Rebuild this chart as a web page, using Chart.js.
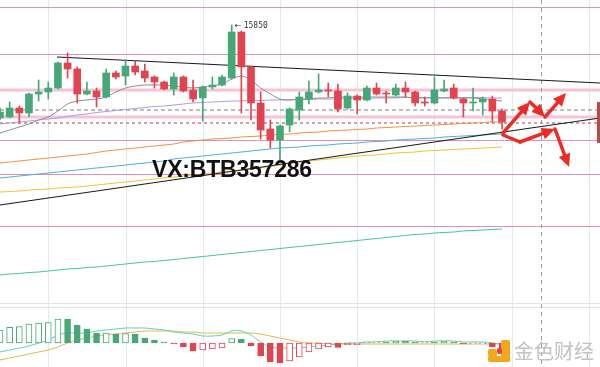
<!DOCTYPE html>
<html>
<head>
<meta charset="utf-8">
<script src="https://cdn.jsdelivr.net/npm/chart.js@4.4.0/dist/chart.umd.min.js"></script>
<style>
  html, body { margin: 0; padding: 0; background: #fff; }
  #wrap { position: relative; width: 600px; height: 367px; overflow: hidden; background: #fff; }
  #wrap canvas { position: absolute; left: 0; top: 0; }
  .wm { position: absolute; left: 152px; top: 158px; font: bold 23px "Liberation Sans", Arial, sans-serif; line-height: 23px; color: #111; white-space: nowrap; letter-spacing: -0.2px; }
  .tag { position: absolute; left: 597px; top: 102px; width: 3px; height: 41px; background: #b94a4a; }
  .logo-icon { position: absolute; left: 488px; top: 340px; width: 23px; height: 22px; }
  .logo-icon div { position: absolute; background: #f2a81d; border-radius: 2px; }
  .logo-text { position: absolute; left: 514px; top: 339px; font: 20px "Noto Sans CJK SC", sans-serif; line-height: 24px; color: #c2c2c2; white-space: nowrap; }
</style>
</head>
<body>
<div id="wrap">
  <canvas id="c" width="600" height="367"></canvas>
  <div class="wm">VX:BTB357286</div>
  <div class="tag"></div>
  <div class="logo-icon">
    <div style="left:0;top:9px;width:9px;height:8px;"></div>
    <div style="left:13px;top:0;width:9px;height:22px;"></div>
    <div style="left:0;top:16px;width:22px;height:6px;"></div>
    <div style="left:9px;top:8px;width:5px;height:6px;background:#e0463a;"></div>
  </div>
  <div class="logo-text">金色财经</div>
</div>
<script>
// ---- candles (price) ----
const opens  = [14920,14930,15020,14970,15160,15180,15220,15470,15410,15160,15190,15130,15370,15340,15440,15390,15330,15280,15210,15330,15200,15120,15230,15250,15320,15780,15430,15070,14810,14700,14850,15000,15110,15180,15200,15190,15020,15140,15100,15220,15170,15150,15220,15180,15080,15070,15190,15220,15110,15070,15080,15110,14990];
const highs  = [15020,15080,15040,15170,15300,15280,15480,15570,15430,15280,15220,15410,15390,15500,15490,15460,15340,15290,15370,15340,15300,15240,15330,15350,15850,15790,15440,15180,14900,14850,15020,15180,15290,15360,15270,15260,15170,15150,15240,15270,15190,15260,15280,15190,15130,15330,15300,15260,15120,15220,15130,15140,15010];
const lows   = [14900,14920,14870,14930,15090,15110,15210,15320,15070,15150,15030,15120,15310,15250,15350,15280,15220,15200,15150,15180,15080,14890,15210,15240,15310,14970,14900,14710,14620,14500,14780,14900,15060,15170,15130,14980,15010,14960,15090,15150,15070,15140,15130,15040,15040,15060,15180,15110,14930,14990,14950,14880,14810];
const closes = [14980,15020,14970,15160,15180,15220,15470,15410,15160,15190,15130,15370,15330,15440,15380,15320,15280,15210,15330,15190,15110,15230,15250,15330,15780,15430,15070,14800,14700,14840,15010,15130,15180,15200,15190,15010,15140,15100,15220,15160,15160,15220,15180,15070,15070,15200,15210,15120,15070,15080,15110,14990,14880];

// ---- moving averages ----
const maGray   = [14770,14800,14830,14860,14900,14930,14990,15060,15090,15100,15110,15130,15180,15220,15240,15250,15250,15250,15240,15230,15220,15230,15240,15260,15310,15340,15300,15220,15160,15110,15100,15110,15110,15120,15120,15130,15130,15130,15130,15130,15130,15130,15130,15120,15120,15120,15120,15120,15120,15120,15110,15100,15090];
const maPurple = [14860,14870,14880,14890,14900,14910,14920,14935,14950,14960,14975,14985,14995,15005,15015,15025,15035,15040,15050,15060,15070,15075,15080,15085,15090,15090,15095,15095,15100,15100,15100,15105,15105,15110,15110,15110,15115,15115,15115,15120,15120,15120,15125,15125,15125,15125,15125,15125,15125,15125,15125,15120,15120];
const maOrange = [14470,14480,14490,14500,14510,14520,14530,14540,14550,14560,14575,14590,14600,14610,14620,14630,14640,14650,14660,14680,14690,14700,14710,14715,14720,14730,14735,14740,14750,14755,14760,14770,14775,14780,14790,14795,14800,14805,14810,14820,14825,14830,14835,14840,14845,14850,14855,14860,14865,14870,14875,14880,14880];
const maBlue   = [14320,14330,14340,14350,14360,14370,14380,14390,14400,14410,14420,14430,14440,14450,14460,14470,14480,14490,14510,14520,14530,14540,14550,14560,14570,14580,14590,14600,14610,14620,14625,14630,14640,14645,14650,14660,14665,14670,14680,14685,14690,14700,14705,14710,14715,14720,14730,14735,14740,14745,14750,14755,14760];
const maYellow = [14180,14185,14190,14200,14205,14210,14220,14225,14230,14240,14250,14260,14270,14280,14290,14300,14310,14320,14330,14340,14350,14360,14370,14380,14390,14400,14410,14420,14435,14450,14465,14480,14490,14500,14510,14520,14530,14540,14545,14550,14560,14570,14575,14580,14590,14595,14600,14605,14610,14615,14620,14625,14630];
const maLong   = [13350,13360,13365,13375,13380,13390,13400,13410,13415,13425,13430,13440,13450,13460,13470,13480,13485,13495,13505,13515,13525,13535,13545,13555,13565,13575,13585,13595,13605,13615,13625,13635,13645,13655,13665,13675,13685,13695,13705,13715,13725,13735,13745,13755,13760,13770,13775,13780,13790,13795,13800,13805,13810];

// ---- MACD ----
const macdHist = [65,78,82,95,99,102,120,118,90,70,48,50,45,47,45,25,15,5,-5,-20,-40,-35,-30,-25,22,20,-15,-65,-95,-100,-90,-70,-45,-30,-20,-22,-10,-8,5,6,4,10,9,5,6,5,10,5,-5,-3,-3,-20,-35];
const macdDif  = [-45,-35,-25,-15,0,15,40,50,50,50,60,65,70,75,75,75,70,65,55,50,45,35,35,40,60,60,40,5,-20,-25,-25,-25,-20,-15,-10,-5,0,0,5,5,10,10,10,10,5,10,10,10,5,5,5,0,-5];
const macdDea  = [-85,-75,-65,-55,-45,-35,-20,0,15,25,35,40,45,50,55,60,60,60,60,55,55,50,50,50,50,50,50,45,35,25,15,5,0,0,-5,-5,-5,-5,-5,-5,-5,-5,-5,-5,-5,-5,-5,-5,-5,-5,-5,-5,-5];
const macdFrame = [200, 180];

// ---- drawings ----
const trendHigh = [[5.9, 15530], [62.15, 15270]];
const trendLow  = [[0, 14050], [62.15, 14920]];
const pinkLevels = [16030, 15560, 14700, 14360, 13840];
const bandLevels = [15200, 14930];
const grayDashLevels = [15000];
const redDashLevels = [14870];
const gridIdx = [5, 13, 21, 29, 37, 45, 53, 61];
const cursorIdx = 56;
const arrowPaths = [
  [52.1, 14770, 54.9, 15080, true],
  [54.9, 15080, 56.45, 14930, true],
  [56.45, 14930, 58.63, 15170, true],
  [52.1, 14750, 53.86, 14680, false],
  [53.86, 14680, 57.49, 14810, true],
  [57.49, 14810, 58.94, 14430, true]
];

const GREEN = '#46a878', RED = '#e2434f';
const idx = opens.map((_, i) => i);
const isUp = idx.map(i => closes[i] >= opens[i]);
const pts = arr => arr.map((v, i) => ({ x: i, y: v }));

// hollow bar = green bar growing / red bar shrinking
const hollow = macdHist.map((v, i) => {
  const p = i ? macdHist[i - 1] : 0;
  if (v >= 0) return p < 0 || v > p;
  return !(p >= 0 || Math.abs(v) > Math.abs(p));
});

const overlay = {
  id: 'overlay',
  beforeDatasetsDraw(chart) {
    const { ctx, scales: { x, y, ym } } = chart;
    const W = chart.width, H = chart.height;
    const hline = (py, color, w, dash) => {
      ctx.beginPath();
      ctx.setLineDash(dash || []);
      ctx.strokeStyle = color; ctx.lineWidth = w;
      ctx.moveTo(0, py); ctx.lineTo(W, py); ctx.stroke();
    };
    ctx.save();
    gridIdx.forEach(i => {
      const px = Math.round(x.getPixelForValue(i)) + 0.5;
      ctx.beginPath(); ctx.strokeStyle = '#e3eaee'; ctx.lineWidth = 1;
      ctx.moveTo(px, 0); ctx.lineTo(px, H); ctx.stroke();
    });
    macdFrame.forEach(v => hline(Math.round(ym.getPixelForValue(v)) + 0.5, '#dfe4e8', 1));
    bandLevels.forEach(p => hline(y.getPixelForValue(p), '#f6c3d9', 3));
    pinkLevels.forEach(p => hline(Math.round(y.getPixelForValue(p)) + 0.5, '#e58cc0', 1));
    grayDashLevels.forEach(p => hline(y.getPixelForValue(p), '#a9a9a9', 1.5, [4, 3]));
    redDashLevels.forEach(p => hline(y.getPixelForValue(p), '#c98080', 1.5, [3, 3]));
    const cx = Math.round(x.getPixelForValue(cursorIdx)) + 0.5;
    ctx.beginPath(); ctx.setLineDash([4, 4]); ctx.strokeStyle = '#9a9a9a'; ctx.lineWidth = 1;
    ctx.moveTo(cx, 0); ctx.lineTo(cx, H); ctx.stroke();
    ctx.restore();
  },
  afterDatasetsDraw(chart) {
    const { ctx, scales: { x, y } } = chart;
    ctx.save();
    // peak label
    let hi = 0;
    highs.forEach((v, i) => { if (v > highs[hi]) hi = i; });
    const px = x.getPixelForValue(hi), py = y.getPixelForValue(highs[hi]);
    ctx.fillStyle = '#333';
    ctx.textBaseline = 'middle';
    ctx.font = '8px "DejaVu Sans"';
    ctx.fillText('\u2190', px + 3, py + 1);
    ctx.font = '8px "DejaVu Sans Mono"';
    ctx.fillText(String(highs[hi]), px + 12, py + 1);
    // red arrows
    ctx.fillStyle = '#ee2a24'; ctx.strokeStyle = '#ee2a24';
    ctx.lineCap = 'round';
    arrowPaths.forEach(([x0, p0, x1, p1, head]) => {
      const ax = x.getPixelForValue(x0), ay = y.getPixelForValue(p0);
      const bx = x.getPixelForValue(x1), by = y.getPixelForValue(p1);
      const ang = Math.atan2(by - ay, bx - ax);
      const L = head ? 13 : 0, hw = 6;
      const ex = bx - Math.cos(ang) * L * 0.7, ey = by - Math.sin(ang) * L * 0.7;
      ctx.lineWidth = 3.5;
      ctx.beginPath(); ctx.moveTo(ax, ay); ctx.lineTo(ex, ey); ctx.stroke();
      if (head) {
        ctx.beginPath();
        ctx.moveTo(bx, by);
        ctx.lineTo(bx - Math.cos(ang) * L + Math.sin(ang) * hw, by - Math.sin(ang) * L - Math.cos(ang) * hw);
        ctx.lineTo(bx - Math.cos(ang) * L - Math.sin(ang) * hw, by - Math.sin(ang) * L + Math.cos(ang) * hw);
        ctx.closePath(); ctx.fill();
      }
    });
    ctx.restore();
  }
};

const lineDs = (data, color, axis, w) => ({
  type: 'line', data: pts(data), borderColor: color, borderWidth: w || 1,
  pointRadius: 0, tension: 0.3, fill: false, yAxisID: axis || 'y', order: 5
});

new Chart(document.getElementById('c'), {
  type: 'bar',
  data: {
    datasets: [
      { data: idx.map(i => ({ x: i, y: [opens[i], closes[i]] })), backgroundColor: idx.map(i => isUp[i] ? GREEN : RED),
        barThickness: 7, grouped: false, yAxisID: 'y', order: 0 },
      { data: idx.map(i => ({ x: i, y: [lows[i], highs[i]] })), backgroundColor: idx.map(i => isUp[i] ? GREEN : RED),
        barThickness: 1, grouped: false, yAxisID: 'y', order: 1 },
      { data: macdHist.map((v, i) => ({ x: i, y: [0, v] })),
        backgroundColor: macdHist.map((v, i) => hollow[i] ? '#ffffff' : (v >= 0 ? GREEN : RED)),
        borderColor: macdHist.map(v => v >= 0 ? GREEN : RED), borderWidth: 1, borderSkipped: false,
        barThickness: 6, grouped: false, yAxisID: 'ym', order: 3 },
      { type: 'line', data: trendHigh.map(([a, b]) => ({ x: a, y: b })), borderColor: '#1a1a1a', borderWidth: 1.2, pointRadius: 0, yAxisID: 'y', order: 2 },
      { type: 'line', data: trendLow.map(([a, b]) => ({ x: a, y: b })), borderColor: '#1a1a1a', borderWidth: 1.2, pointRadius: 0, yAxisID: 'y', order: 2 },
      lineDs(maGray, '#8c8c8c'),
      lineDs(maPurple, '#b597e0'),
      lineDs(maOrange, '#ee9040'),
      lineDs(maBlue, '#4aaed2'),
      lineDs(maYellow, '#f2c12e'),
      lineDs(maLong, '#3fc2a6'),
      lineDs(macdDif, '#5ccfc2', 'ym'),
      lineDs(macdDea, '#e0b84a', 'ym')
    ]
  },
  options: {
    responsive: false,
    animation: false,
    devicePixelRatio: 1,
    layout: { padding: 0 },
    plugins: { legend: { display: false }, tooltip: { enabled: false } },
    scales: {
      x: { type: 'linear', min: 0, max: 62.15, offset: false, display: false },
      y: { type: 'linear', min: 12430, max: 16100, display: false },
      ym: { type: 'linear', min: -120, max: 1715, display: false }
    }
  },
  plugins: [overlay]
});
</script>
</body>
</html>
